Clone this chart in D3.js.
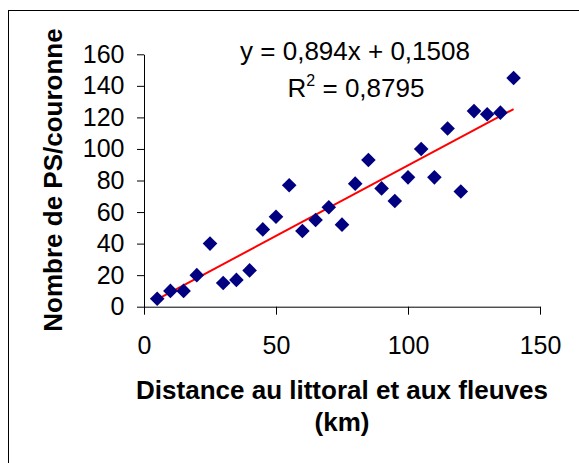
<!DOCTYPE html>
<html>
<head>
<meta charset="utf-8">
<script src="https://cdn.jsdelivr.net/npm/d3@7"></script>
<style>
  html, body { margin: 0; padding: 0; background: #fff; }
  svg { display: block; font-family: "Liberation Sans", Arial, sans-serif; }
</style>
</head>
<body>
<svg id="chart" width="579" height="463"></svg>
<script>
// ---- data ----
const distances = [5, 10, 15, 20, 25, 30, 35, 40, 45, 50, 55, 60, 65, 70, 75, 80, 85, 90, 95, 100, 105, 110, 115, 120, 125, 130, 135, 140];
const counts    = [5, 10, 10, 20, 40, 15, 17, 23, 49, 57, 77, 48, 55, 63, 52, 78, 93, 75, 67, 82, 100, 82, 113, 73, 124, 122, 123, 145];
const xTicks = [0, 50, 100, 150];
const yTicks = [0, 20, 40, 60, 80, 100, 120, 140, 160];
const trendSlope = 0.894;
const trendIntercept = 0.1508;
const trendRange = [5, 140];
const equationText = "y = 0,894x + 0,1508";
const r2Text = "= 0,8795";
const xTitleLines = ["Distance au littoral et aux fleuves", "(km)"];
const yTitle = "Nombre de PS/couronne";

// ---- layout ----
const svg = d3.select("#chart");
const x = d3.scaleLinear().domain([0, 150]).range([144, 540]);
const y = d3.scaleLinear().domain([0, 160]).range([306.7, 54.3]);

// outer frame
svg.append("rect")
  .attr("x", 8.5).attr("y", 10.5)
  .attr("width", 620).attr("height", 500)
  .attr("fill", "none").attr("stroke", "#000").attr("stroke-width", 1);

// axes
const xAxis = d3.axisBottom(x).tickValues(xTicks).tickSize(8).tickSizeOuter(0).tickPadding(22);
const yAxis = d3.axisLeft(y).tickValues(yTicks).tickSize(7).tickSizeOuter(0).tickPadding(12.5);

const gx = svg.append("g").attr("transform", `translate(0,${y(0)})`).call(xAxis);
const gy = svg.append("g").attr("transform", `translate(${x(0)},0)`).call(yAxis);
[gx, gy].forEach(g => {
  g.selectAll("path.domain").attr("stroke", "#000");
  g.selectAll("line").attr("stroke", "#000");
  g.selectAll("text").attr("font-size", 25).attr("fill", "#000")
    .attr("font-family", '"Liberation Sans", Arial, sans-serif');
});

// trend line
const trendPts = trendRange.map(d => [d, trendSlope * d + trendIntercept]);
svg.append("path")
  .attr("d", d3.line().x(d => x(d[0])).y(d => y(d[1]))(trendPts))
  .attr("stroke", "#ff0000").attr("stroke-width", 2).attr("fill", "none");

// markers (diamonds)
const r = 7.3;
const diamond = `M0,${-r}L${r},0L0,${r}L${-r},0Z`;
svg.append("g").selectAll("path")
  .data(distances.map((d, i) => [d, counts[i]]))
  .join("path")
  .attr("d", diamond)
  .attr("transform", d => `translate(${x(d[0])},${y(d[1])})`)
  .attr("fill", "#000080");

// equation
svg.append("text")
  .attr("x", 355).attr("y", 60)
  .attr("text-anchor", "middle").attr("font-size", 26)
  .text(equationText);
const r2 = svg.append("text")
  .attr("x", 356).attr("y", 97)
  .attr("text-anchor", "middle").attr("font-size", 26);
r2.append("tspan").text("R");
r2.append("tspan").attr("font-size", 16).attr("dy", -11).text("2");
r2.append("tspan").attr("dy", 11).text(" " + r2Text);

// axis titles
svg.append("g").selectAll("text")
  .data(xTitleLines)
  .join("text")
  .attr("x", 342).attr("y", (d, i) => 398.5 + i * 32.5)
  .attr("text-anchor", "middle")
  .attr("font-size", 26).attr("font-weight", "bold")
  .text(d => d);

svg.append("text")
  .attr("transform", "translate(61.5,180) rotate(-90)")
  .attr("text-anchor", "middle")
  .attr("font-size", 26).attr("font-weight", "bold")
  .text(yTitle);
</script>
</body>
</html>
